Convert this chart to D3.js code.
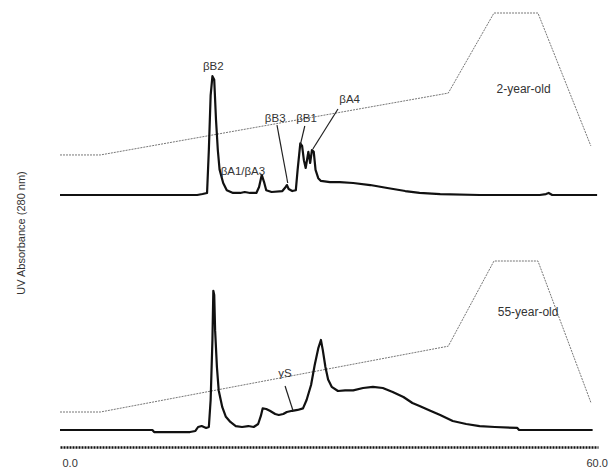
<!DOCTYPE html>
<html>
<head>
<meta charset="utf-8">
<script src="https://cdn.jsdelivr.net/npm/d3@7"></script>
<style>
  body { margin: 0; background: #fff; }
  svg { display: block; }
  text { font-family: "Liberation Sans", Arial, sans-serif; fill: #333; }
</style>
</head>
<body>
<div id="chart-area"></div>
<script>
// retention time (min) and UV absorbance (arbitrary units), 2-year-old lens
const timeYoung = [0, 15.3, 15.9, 16.4, 16.6, 16.8, 17.0, 17.2, 17.4, 17.6, 17.8, 18.2, 18.6, 19.3, 20.1, 20.6,
  21.2, 21.9, 22.2, 22.5, 22.75, 23.0, 23.6, 24.8, 25.1, 25.3, 25.5, 25.9, 26.3, 26.5, 26.8, 27.0, 27.2, 27.4,
  27.7, 27.9, 28.1, 28.3, 28.5, 28.8, 29.1, 30.1, 31.2, 32.7, 34.6, 36.5, 38.5, 40.1, 42.4, 46.8, 53.5, 54.2,
  54.5, 54.9, 59.9];
const absYoung = [0, 0, 0.8, 1.7, 37.5, 83, 99, 96, 62.5, 37.5, 21, 10, 4, 1.7, 1.7, 2.5,
  1.7, 1.7, 6.7, 16.7, 11, 4, 2.5, 3.3, 6, 8.3, 5, 3.3, 4, 21, 43, 41, 29, 22.5,
  36, 26.7, 37.5, 36, 21, 14, 11.7, 10.8, 10.8, 10, 8.3, 5.8, 3.3, 1.7, 0.8, 0, 0, 0.8,
  1.7, 0, 0];

// 55-year-old lens
const timeOld = [0, 10.3, 10.5, 14.5, 15.1, 15.4, 15.8, 16.3, 16.6, 16.8, 17.0, 17.1, 17.2, 17.3, 17.5, 17.7,
  18.1, 18.5, 19.0, 19.6, 20.3, 21.0, 21.6, 22.1, 22.4, 22.6, 23.0, 23.4, 24.0, 24.4, 24.9, 25.3, 25.9, 26.5,
  27.1, 27.5, 28.0, 28.4, 28.8, 29.1, 29.3, 29.6, 29.9, 30.3, 31.0, 31.8, 32.7, 33.8, 34.9, 36.0, 37.1, 38.3,
  39.3, 40.1, 41.3, 42.4, 43.8, 45.3, 46.8, 48.5, 51.0, 51.2, 59.4];
const absOld = [0, 0, -1.7, -1.7, -0.8, 2.5, 3.3, 1.7, 2.5, 25, 75, 116, 112.5, 83, 52.5, 33,
  19, 11, 6.7, 3.3, 2.5, 3.3, 2.5, 5, 11.7, 18, 17.5, 16, 13.3, 12.5, 13.3, 15, 16, 16.7,
  18, 25, 37.5, 54, 68, 75, 67, 52.5, 42, 36, 32.5, 33, 33, 35, 36, 35, 31.7, 27.5,
  22.5, 20, 16, 12.5, 7.5, 5, 3.3, 2.5, 1.7, 0, 0];

// elution gradient (% buffer B), same program for both runs
const gradTime = [0, 4.5, 43.3, 48.4, 53.3, 59.2];
const gradPct = [22, 22, 56, 100, 100, 27];

// x axis ticks
const tickValues = [0, 60];

// peak labels: text, anchor (time, absorbance), optional leader line end
const labelsYoung = [
  { text: "βB2", t: 17.1, v: 104 },
  { text: "βA1/βA3", t: 20.4, v: 16.7 },
  { text: "βB3", t: 24.0, v: 60.8, lead: [24.2, 58.3, 25.4, 10] },
  { text: "βB1", t: 27.5, v: 60.8, lead: [27.3, 57.5, 26.8, 41.7] },
  { text: "βA4", t: 32.3, v: 76.7, lead: [31.0, 71.7, 28.2, 38.3] },
  { text: "2-year-old", t: 51.7, v: 85, big: true }
];
const labelsOld = [
  { text: "γS", t: 25.1, v: 44, lead: [25.1, 36.7, 26.0, 15.8] },
  { text: "55-year-old", t: 52.2, v: 95, big: true }
];

const width = 611, height = 468;

const svg = d3.select("#chart-area")
  .append("svg")
  .attr("width", width)
  .attr("height", height);

const x = d3.scaleLinear().domain([0, 60]).range([60, 598]);

const panels = [
  {
    time: timeYoung, abs: absYoung, labels: labelsYoung,
    y: d3.scaleLinear().domain([0, 100]).range([195, 75]),
    g: d3.scaleLinear().domain([0, 100]).range([195, 13])
  },
  {
    time: timeOld, abs: absOld, labels: labelsOld,
    y: d3.scaleLinear().domain([0, 100]).range([430, 310]),
    g: d3.scaleLinear().domain([0, 100]).range([454.6, 261])
  }
];

panels.forEach(p => {
  const grp = svg.append("g");

  // gradient profile, thin dotted grey
  const gradLine = d3.line()
    .x((d, i) => x(gradTime[i]))
    .y(d => p.g(d));
  grp.append("path")
    .attr("d", gradLine(gradPct))
    .attr("fill", "none")
    .attr("stroke", "#777")
    .attr("stroke-width", 1)
    .attr("stroke-dasharray", "2,1");

  // absorbance trace
  const trace = d3.line()
    .x((d, i) => x(p.time[i]))
    .y(d => p.y(d));
  grp.append("path")
    .attr("d", trace(p.abs))
    .attr("fill", "none")
    .attr("stroke", "#111")
    .attr("stroke-width", 2.2)
    .attr("stroke-linejoin", "round");

  // leader lines
  grp.selectAll(".lead")
    .data(p.labels.filter(d => d.lead))
    .join("line")
    .attr("class", "lead")
    .attr("x1", d => x(d.lead[0]))
    .attr("y1", d => p.y(d.lead[1]))
    .attr("x2", d => x(d.lead[2]))
    .attr("y2", d => p.y(d.lead[3]))
    .attr("stroke", "#222")
    .attr("stroke-width", 1.2);

  grp.selectAll(".peak")
    .data(p.labels)
    .join("text")
    .attr("class", "peak")
    .attr("x", d => x(d.t))
    .attr("y", d => p.y(d.v))
    .attr("text-anchor", "middle")
    .attr("font-size", d => d.big ? 12 : 11.5)
    .text(d => d.text);
});

// x axis
const xAxis = svg.append("g")
  .attr("transform", "translate(0,447)")
  .call(d3.axisBottom(x).tickValues(tickValues).tickFormat(d3.format(".1f")).tickSize(0).tickPadding(12));

xAxis.select(".domain")
  .attr("stroke", "#111")
  .attr("stroke-width", 2.5)
  .attr("stroke-dasharray", "2,1");

xAxis.selectAll("text")
  .attr("font-size", 11)
  .attr("font-family", "Liberation Sans, Arial, sans-serif")
  .attr("fill", "#333")
  .attr("text-anchor", "start")
  .attr("dx", (d, i) => i === 0 ? 2 : -12);

// y axis title
svg.append("text")
  .attr("transform", "translate(25,233) rotate(-90)")
  .attr("text-anchor", "middle")
  .attr("font-size", 11)
  .text("UV Absorbance (280 nm)");
</script>
</body>
</html>
